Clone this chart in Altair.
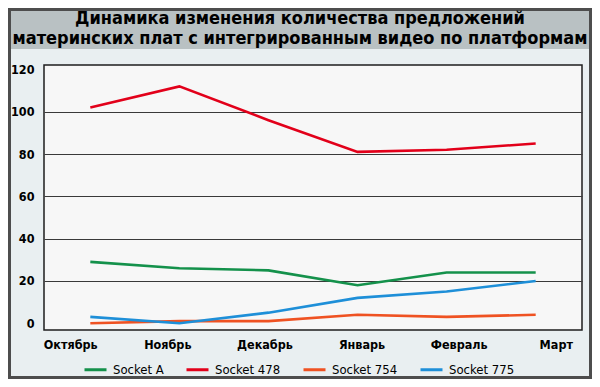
import altair as alt
import pandas as pd

months = ["Октябрь", "Ноябрь", "Декабрь", "Январь", "Февраль", "Март"]
series_names = ["Socket A", "Socket 478", "Socket 754", "Socket 775"]
socket_a = [29, 26, 25, 18, 24, 24]
socket_478 = [102, 112, 96, 81, 82, 85]
socket_754 = [0, 1, 1, 4, 3, 4]
socket_775 = [3, 0, 5, 12, 15, 20]
colors = ["#14914b", "#e2001a", "#ef5222", "#1e8fd8"]
y_ticks = [0, 20, 40, 60, 80, 100, 120]
title_lines = ["Динамика изменения количества предложений",
               "материнских плат с интегрированным видео по платформам"]

rows = []
for name, vals in zip(series_names, [socket_a, socket_478, socket_754, socket_775]):
    for m, v in zip(months, vals):
        rows.append({"month": m, "value": v, "series": name})
df = pd.DataFrame(rows)

FONT = "DejaVu Sans Condensed, sans-serif"
one = pd.DataFrame({"k": [0]})

# decorative frame, title bar and title text (not data)
frame = alt.Chart(one).mark_rect(
    fillOpacity=0, stroke="#4d4d4d", strokeWidth=3, clip=False
).encode(x=alt.value(-34.5), x2=alt.value(546.5), y=alt.value(-55.5), y2=alt.value(312.5))

bar = alt.Chart(one).mark_rect(fill="#b9c1c3", clip=False).encode(
    x=alt.value(-33), x2=alt.value(545), y=alt.value(-54), y2=alt.value(-16))

title = alt.Chart(one).mark_text(
    text=title_lines, font=FONT, fontSize=18, fontWeight="bold", color="#000",
    align="center", baseline="alphabetic", lineHeight=20, clip=False
).encode(x=alt.value(256), y=alt.value(-41))

lines = alt.Chart(df).mark_line(strokeWidth=2.6).encode(
    x=alt.X("month:N", sort=months, scale=alt.Scale(type="point", padding=0.52), axis=None),
    y=alt.Y("value:Q", scale=alt.Scale(domain=[-3.2, 122.1], nice=False, zero=False),
            axis=alt.Axis(values=y_ticks, title=None, domain=False, ticks=False,
                          labelFont=FONT, labelFontSize=12.5, labelFontWeight="bold",
                          labelColor="#000", labelPadding=10,
                          gridColor="#3a3a3a", gridWidth=1,
                          gridOpacity=alt.condition("datum.value > 0 && datum.value < 120",
                                                    alt.value(1), alt.value(0)))),
    color=alt.Color("series:N", sort=series_names,
                    scale=alt.Scale(domain=series_names, range=colors),
                    legend=alt.Legend(orient="none", legendX=39, legendY=292,
                                      direction="horizontal", title=None,
                                      symbolType="stroke", symbolSize=484,
                                      symbolStrokeWidth=3, labelFont=FONT,
                                      labelFontSize=13, labelColor="#000",
                                      labelOffset=5, columnPadding=16)),
    detail="series:N",
)

xaxis = alt.Chart(pd.DataFrame({"month": months})).mark_point(opacity=0).encode(
    x=alt.X("month:N", sort=months, scale=alt.Scale(type="point", padding=0.27),
            axis=alt.Axis(title=None, domain=False, ticks=False, grid=False,
                          labelAngle=0, labelFont=FONT, labelFontSize=12.5,
                          labelFontWeight="bold", labelColor="#000", labelPadding=8)),
)

chart = alt.layer(frame, bar, title, lines, xaxis).resolve_scale(x="independent").properties(
    width=538, height=265,
    autosize=alt.AutoSizeParams(type="none"),
    padding={"left": 36, "top": 57, "right": 10, "bottom": 49},
    background="#e9eff1",
).configure_view(fill="#f7f7f7", stroke="#1e1e1e", strokeWidth=1.5)

chart.save("out.html", embed_options={"renderer": "svg", "actions": False})
